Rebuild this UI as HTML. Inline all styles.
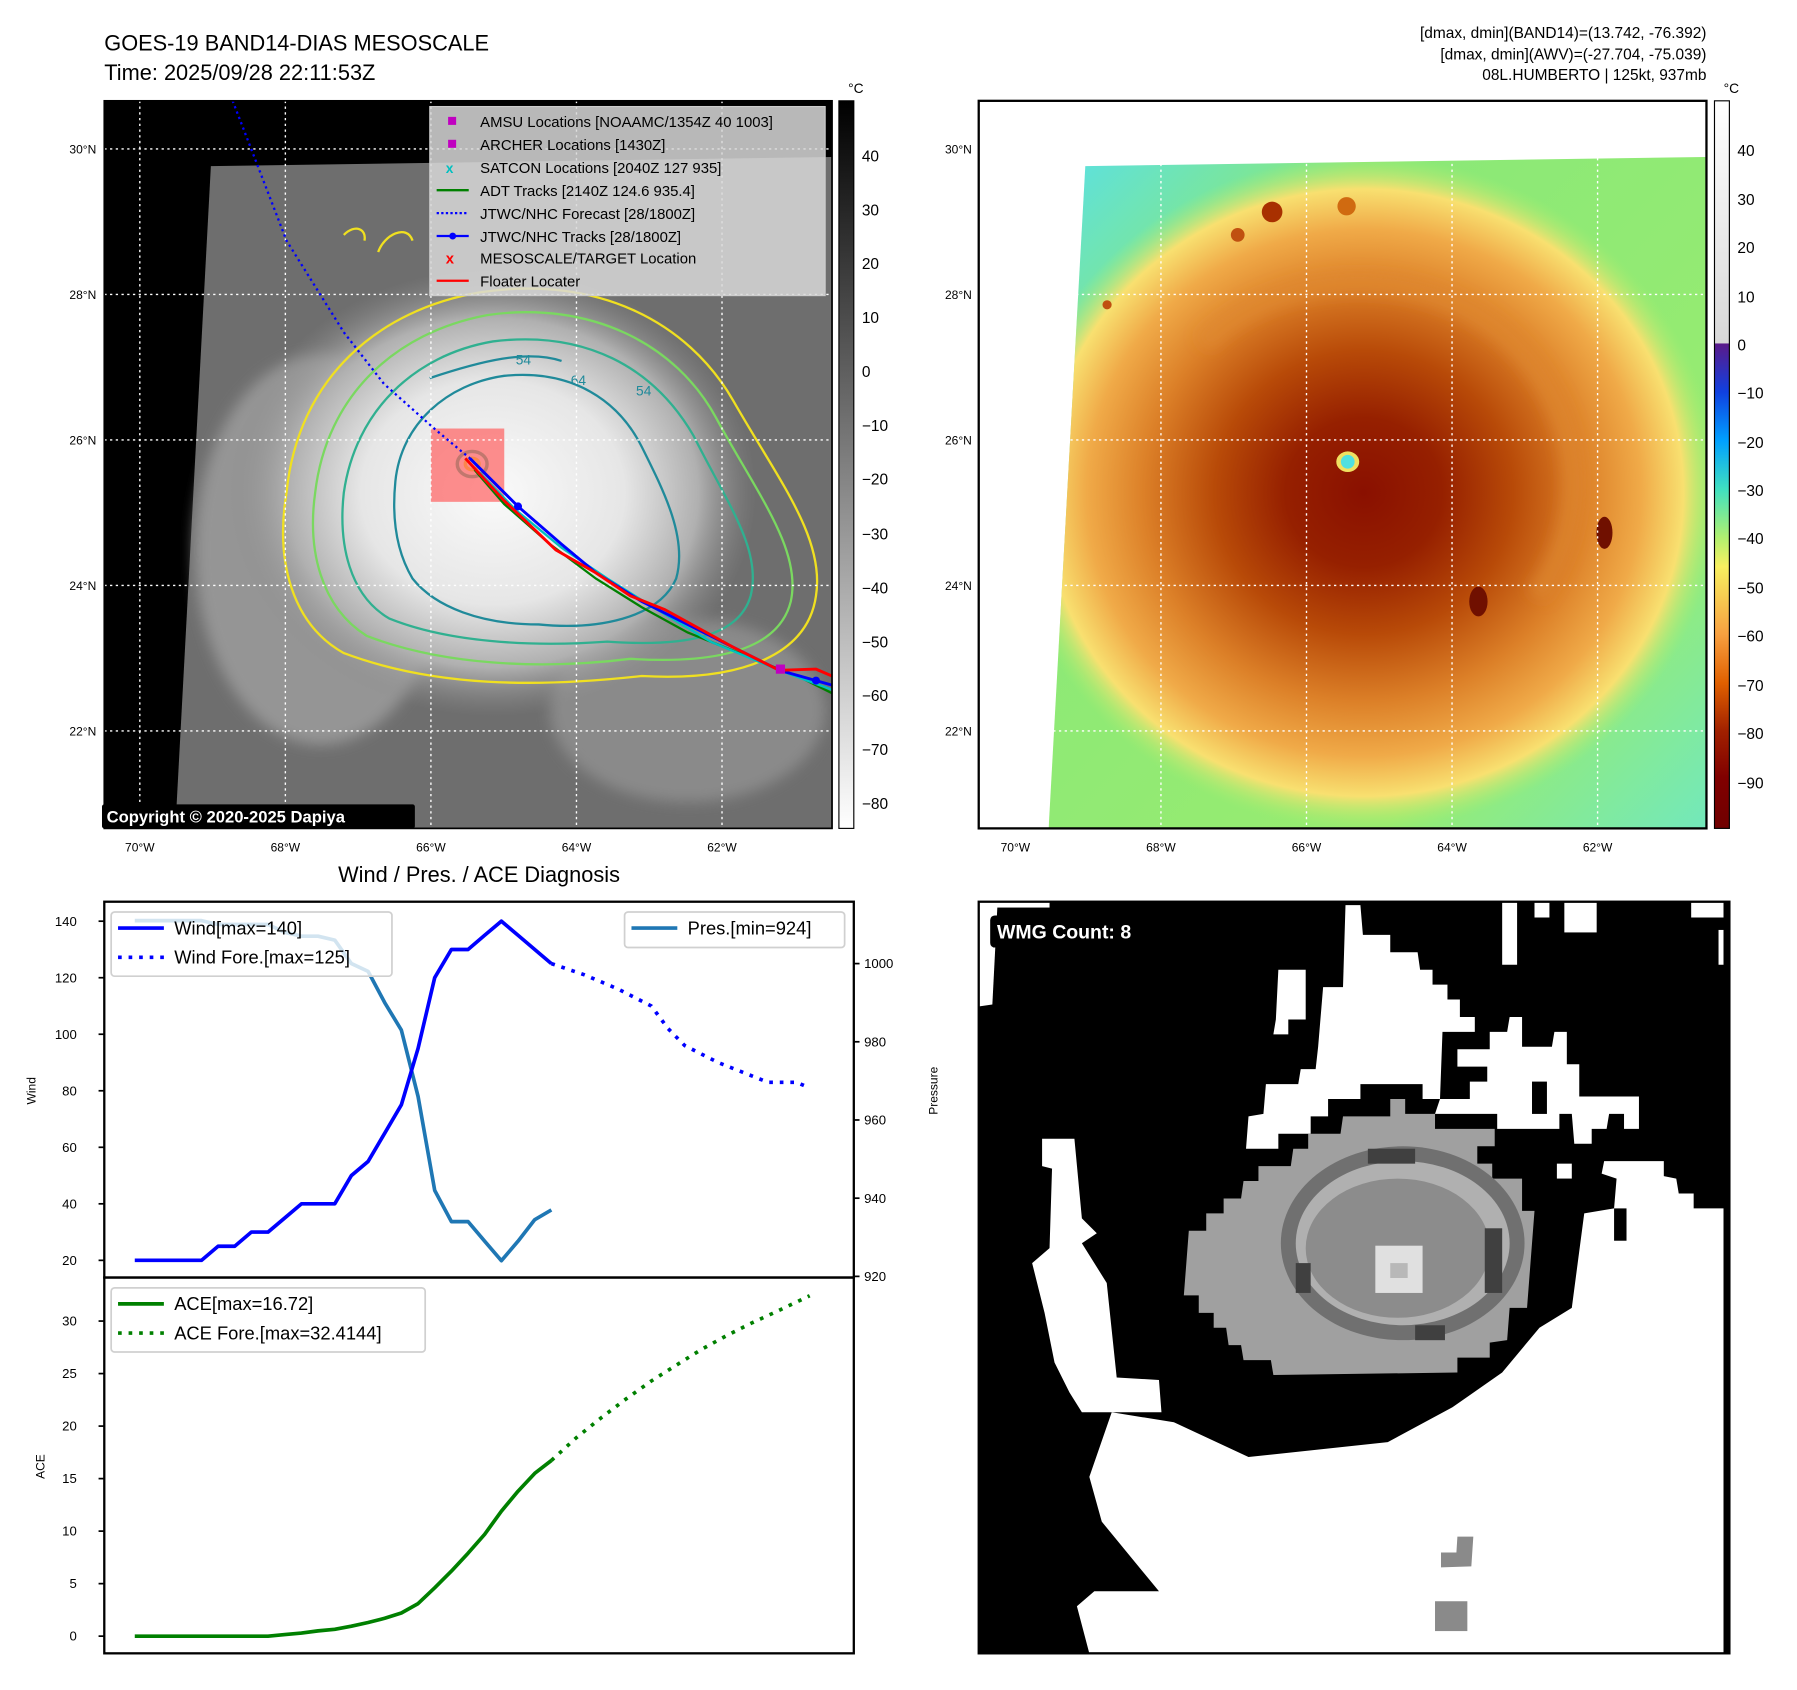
<!DOCTYPE html>
<html><head><meta charset="utf-8"><style>
html,body{margin:0;padding:0;background:#fff;}
svg{display:block;font-family:"Liberation Sans","DejaVu Sans",sans-serif;}
</style></head><body>
<svg id="fig" width="1797" height="1690" viewBox="0 0 1568 1475" preserveAspectRatio="none" xmlns="http://www.w3.org/2000/svg">
<defs>
<radialGradient id="cloud" cx="430" cy="430" r="230" gradientUnits="userSpaceOnUse" gradientTransform="translate(430 430) scale(1 0.85) translate(-430 -430)">
<stop offset="0" stop-color="#fafafa"/><stop offset="0.5" stop-color="#e6e6e6"/><stop offset="0.78" stop-color="#b0b0b0"/><stop offset="1" stop-color="#8a8a8a" stop-opacity="0"/></radialGradient>
<radialGradient id="storm" cx="1190" cy="430" r="310" gradientUnits="userSpaceOnUse" gradientTransform="translate(1190 430) scale(1 0.95) translate(-1190 -430)">
<stop offset="0" stop-color="#8a1000"/><stop offset="0.22" stop-color="#962000"/><stop offset="0.42" stop-color="#b84a08"/><stop offset="0.62" stop-color="#dc8028"/><stop offset="0.78" stop-color="#f0aa48"/><stop offset="0.9" stop-color="#f8e070"/><stop offset="1" stop-color="#a8ee70" stop-opacity="0"/></radialGradient>
<linearGradient id="cbGray" x1="0" y1="0" x2="0" y2="1"><stop offset="0" stop-color="#000"/><stop offset="1" stop-color="#fff"/></linearGradient>
<linearGradient id="cbColor" x1="0" y1="88" x2="0" y2="723" gradientUnits="userSpaceOnUse">
<stop offset="0" stop-color="#ffffff"/><stop offset="0.333" stop-color="#d8d8d8"/><stop offset="0.334" stop-color="#5a1a8a"/>
<stop offset="0.4" stop-color="#1040e0"/><stop offset="0.467" stop-color="#00a0ff"/><stop offset="0.534" stop-color="#40e0c0"/>
<stop offset="0.6" stop-color="#b0f070"/><stop offset="0.64" stop-color="#f8f060"/><stop offset="0.733" stop-color="#f8a040"/>
<stop offset="0.8" stop-color="#e06000"/><stop offset="0.867" stop-color="#a02000"/><stop offset="0.93" stop-color="#800000"/><stop offset="1" stop-color="#700000"/></linearGradient>
<linearGradient id="bgGreen" x1="0" y1="0" x2="1" y2="1"><stop offset="0" stop-color="#55e0f0"/><stop offset="0.25" stop-color="#8ae878"/><stop offset="0.75" stop-color="#98ec70"/><stop offset="1" stop-color="#70e8c0"/></linearGradient>
<filter id="blur4"><feGaussianBlur stdDeviation="6"/></filter>
</defs>

<text x="91" y="44" font-size="19">GOES-19 BAND14-DIAS MESOSCALE</text>
<text x="91" y="70" font-size="19">Time: 2025/09/28 22:11:53Z</text>
<g font-size="13.5" text-anchor="end">
<text x="1489" y="33">[dmax, dmin](BAND14)=(13.742, -76.392)</text>
<text x="1489" y="52">[dmax, dmin](AWV)=(-27.704, -75.039)</text>
<text x="1489" y="70">08L.HUMBERTO | 125kt, 937mb</text>
</g>

<g>
<clipPath id="clipL"><rect x="91" y="88" width="635" height="635"/></clipPath>
<rect x="91" y="88" width="635" height="635" fill="#000"/>
<g clip-path="url(#clipL)">
<polygon points="184,145 726,137 726,723 153,723" fill="#6e6e6e"/>
<ellipse cx="280" cy="480" rx="110" ry="170" fill="#959595" filter="url(#blur4)"/>
<ellipse cx="600" cy="620" rx="120" ry="80" fill="#8a8a8a" filter="url(#blur4)"/>
<ellipse cx="430" cy="430" rx="270" ry="240" fill="url(#cloud)"/>
<g fill="none" stroke-width="2">
<path d="M250,430 C260,330 330,270 420,255 C520,240 600,280 640,350 C680,420 720,470 712,520 C705,570 650,595 560,590 C470,600 380,600 300,570 C255,545 240,490 250,430Z" stroke="#f0e020"/>
<path d="M275,430 C285,345 345,290 425,275 C515,262 590,300 625,365 C660,430 700,480 690,525 C680,565 630,580 550,575 C470,585 385,580 320,555 C280,530 268,480 275,430Z" stroke="#7ad860"/>
<path d="M300,430 C310,360 360,310 430,298 C510,288 570,320 605,380 C635,440 665,480 655,520 C645,555 600,565 530,560 C460,565 390,560 340,540 C305,520 295,475 300,430Z" stroke="#30b090"/>
<path d="M345,420 C350,370 390,335 440,328 C500,322 540,350 560,390 C580,430 600,470 590,505 C575,540 520,550 470,545 C420,545 380,530 360,505 C345,480 342,450 345,420Z" stroke="#208a9a"/>
<path d="M375,330 C420,315 460,305 490,315" stroke="#208a9a"/>
<path d="M330,220 C335,205 355,195 360,210 M300,205 C310,195 320,200 318,210" stroke="#f0e020"/>
<ellipse cx="412" cy="405" rx="13" ry="11" stroke="#30b090" stroke-width="3"/>
<ellipse cx="412" cy="405" rx="6" ry="5" stroke="#f0e020" stroke-width="3"/>
</g>
<text x="450" y="318" font-size="12" fill="#208a9a">54</text>
<text x="498" y="336" font-size="12" fill="#208a9a">64</text>
<text x="555" y="345" font-size="12" fill="#208a9a">54</text>
<rect x="376" y="374" width="64" height="64" fill="#ff6060" fill-opacity="0.7"/>
<g stroke="#fff" stroke-width="1.2" stroke-dasharray="2,3">
<line x1="122" y1="88" x2="122" y2="723"/><line x1="249" y1="88" x2="249" y2="723"/><line x1="376" y1="88" x2="376" y2="723"/><line x1="503" y1="88" x2="503" y2="723"/><line x1="630" y1="88" x2="630" y2="723"/>
<line x1="91" y1="130" x2="726" y2="130"/><line x1="91" y1="257" x2="726" y2="257"/><line x1="91" y1="384" x2="726" y2="384"/><line x1="91" y1="511" x2="726" y2="511"/><line x1="91" y1="638" x2="726" y2="638"/>
</g>
<polyline points="203,88 250,210 300,290 335,335 380,375 410,400" fill="none" stroke="#0000ff" stroke-width="2" stroke-dasharray="2,3"/>
<polyline points="414,410 440,440 480,475 520,505 560,530 600,552 650,572 700,592 726,605" fill="none" stroke="#008000" stroke-width="2"/>
<polyline points="418,412 450,445 490,478 530,505 570,530 620,560 680,585 726,602" fill="none" stroke="#00c0c0" stroke-width="2"/>
<polyline points="410,400 452,442 490,475 520,500 560,525 620,555 680,585 726,598" fill="none" stroke="#0000ff" stroke-width="2.5"/>
<polyline points="406,400 440,437 485,480 520,500 550,520 580,532 640,565 680,585 712,584 726,590" fill="none" stroke="#ff0000" stroke-width="2.5"/>
<circle cx="452" cy="442" r="3.5" fill="#0000ff"/><circle cx="712" cy="594" r="3.5" fill="#0000ff"/>
<rect x="677" y="580" width="8" height="8" fill="#c000c0"/>
</g>
<rect x="91" y="88" width="635" height="635" fill="none" stroke="#000" stroke-width="1.5"/>
<g>
<rect x="89" y="702" width="273" height="21" fill="#000" rx="2"/>
<text x="93" y="718" font-size="14.5" font-weight="bold" fill="#fff">Copyright © 2020-2025 Dapiya</text>
</g>
<g font-size="13">
<rect x="375" y="93" width="345" height="165" fill="#d8d8d8" fill-opacity="0.85" stroke="#ccc"/>
<rect x="391" y="102" width="7" height="7" fill="#c000c0"/><text x="419" y="111">AMSU Locations [NOAAMC/1354Z 40 1003]</text>
<rect x="391" y="122" width="7" height="7" fill="#c000c0"/><text x="419" y="131">ARCHER Locations [1430Z]</text>
<text x="389" y="151" fill="#00c0c0" font-size="12" font-weight="bold">x</text><text x="419" y="151">SATCON Locations [2040Z 127 935]</text>
<line x1="381" y1="166" x2="409" y2="166" stroke="#008000" stroke-width="2"/><text x="419" y="171">ADT Tracks [2140Z 124.6 935.4]</text>
<line x1="381" y1="186" x2="409" y2="186" stroke="#0000ff" stroke-width="2" stroke-dasharray="2,2"/><text x="419" y="191">JTWC/NHC Forecast [28/1800Z]</text>
<line x1="381" y1="206" x2="409" y2="206" stroke="#0000ff" stroke-width="2"/><circle cx="395" cy="206" r="3" fill="#0000ff"/><text x="419" y="211">JTWC/NHC Tracks [28/1800Z]</text>
<text x="389" y="230" fill="#ff0000" font-size="13" font-weight="bold">x</text><text x="419" y="230">MESOSCALE/TARGET Location</text>
<line x1="381" y1="245" x2="409" y2="245" stroke="#ff0000" stroke-width="2"/><text x="419" y="250">Floater Locater</text>
</g>
<g font-size="10.5" text-anchor="end">
<text x="84" y="134">30°N</text><text x="84" y="261">28°N</text><text x="84" y="388">26°N</text><text x="84" y="515">24°N</text><text x="84" y="642">22°N</text>
</g>
<g font-size="10.5" text-anchor="middle">
<text x="122" y="743">70°W</text><text x="249" y="743">68°W</text><text x="376" y="743">66°W</text><text x="503" y="743">64°W</text><text x="630" y="743">62°W</text>
</g>
</g>
<g>
<text x="740" y="81" font-size="12">°C</text>
<rect x="732" y="88" width="13" height="635" fill="url(#cbGray)" stroke="#000" stroke-width="1"/>
<g font-size="13.5">
<text x="752" y="141">40</text><text x="752" y="188">30</text><text x="752" y="235">20</text><text x="752" y="282">10</text><text x="752" y="329">0</text>
<text x="752" y="376">−10</text><text x="752" y="423">−20</text><text x="752" y="471">−30</text><text x="752" y="518">−40</text><text x="752" y="565">−50</text>
<text x="752" y="612">−60</text><text x="752" y="659">−70</text><text x="752" y="706">−80</text>
</g>
</g>

<g>
<clipPath id="clipR"><polygon points="947,145 1489,137 1489,723 915,723"/></clipPath>
<rect x="854" y="88" width="635" height="635" fill="#fff"/>
<g clip-path="url(#clipR)">
<rect x="900" y="130" width="600" height="600" fill="url(#bgGreen)"/>
<ellipse cx="1190" cy="430" rx="310" ry="295" fill="url(#storm)"/>
<path d="M1050,300 C1120,230 1250,230 1320,300 C1380,360 1390,450 1340,520" fill="none" stroke="#e08a30" stroke-width="18" stroke-opacity="0.6" filter="url(#blur4)"/>
<circle cx="1110" cy="185" r="9" fill="#a83000"/><circle cx="1080" cy="205" r="6" fill="#c05010"/><circle cx="1175" cy="180" r="8" fill="#d06a10"/>
<circle cx="966" cy="266" r="4" fill="#c05010"/>
<ellipse cx="1290" cy="525" rx="8" ry="13" fill="#701000"/><ellipse cx="1400" cy="465" rx="7" ry="14" fill="#701000"/>
<ellipse cx="1176" cy="403" rx="10" ry="9" fill="#f0e060"/><ellipse cx="1176" cy="403" rx="6" ry="6" fill="#50e0e0"/>
</g>
<g stroke="#fff" stroke-width="1.2" stroke-dasharray="2,3">
<line x1="886" y1="88" x2="886" y2="723"/><line x1="1013" y1="88" x2="1013" y2="723"/><line x1="1140" y1="88" x2="1140" y2="723"/><line x1="1267" y1="88" x2="1267" y2="723"/><line x1="1394" y1="88" x2="1394" y2="723"/>
<line x1="854" y1="130" x2="1489" y2="130"/><line x1="854" y1="257" x2="1489" y2="257"/><line x1="854" y1="384" x2="1489" y2="384"/><line x1="854" y1="511" x2="1489" y2="511"/><line x1="854" y1="638" x2="1489" y2="638"/>
</g>
<rect x="854" y="88" width="635" height="635" fill="none" stroke="#000" stroke-width="2"/>
<g font-size="10.5" text-anchor="end">
<text x="848" y="134">30°N</text><text x="848" y="261">28°N</text><text x="848" y="388">26°N</text><text x="848" y="515">24°N</text><text x="848" y="642">22°N</text>
</g>
<g font-size="10.5" text-anchor="middle">
<text x="886" y="743">70°W</text><text x="1013" y="743">68°W</text><text x="1140" y="743">66°W</text><text x="1267" y="743">64°W</text><text x="1394" y="743">62°W</text>
</g>
</g>
<g>
<text x="1504" y="81" font-size="12">°C</text>
<rect x="1496" y="88" width="13" height="635" fill="url(#cbColor)" stroke="#000" stroke-width="1"/>
<g font-size="13.5">
<text x="1516" y="136">40</text><text x="1516" y="179">30</text><text x="1516" y="221">20</text><text x="1516" y="264">10</text><text x="1516" y="306">0</text>
<text x="1516" y="348">−10</text><text x="1516" y="391">−20</text><text x="1516" y="433">−30</text><text x="1516" y="475">−40</text><text x="1516" y="518">−50</text>
<text x="1516" y="560">−60</text><text x="1516" y="603">−70</text><text x="1516" y="645">−80</text><text x="1516" y="688">−90</text>
</g>
</g>

<g>
<rect x="854" y="787" width="655" height="656" fill="#000"/>
<clipPath id="clipW"><rect x="854" y="787" width="655" height="656"/></clipPath>
<g clip-path="url(#clipW)">
<g transform="translate(850.7,781.25) scale(0.434)">
<g fill="#fff">
<polygon points="1505,630 1445,630 1445,600 1415,600 1410,570 1385,565 1385,535 1265,535 1260,560 1290,570 1285,630 1225,640 1200,830 1135,870 1060,960 960,1030 830,1100 550,1130 400,1060 275,1040 230,1170 255,1260 370,1400 240,1400 205,1430 230,1525 1505,1525"/>
<polygon points="135,490 200,490 215,650 245,680 215,700 265,780 285,970 370,975 375,1040 215,1040 190,1000 160,940 140,840 115,740 150,710 155,550 135,545"/>
<polygon points="745,20 775,20 780,80 835,80 835,115 890,115 895,150 920,150 920,180 950,180 950,210 975,210 975,245 1005,245 1005,275 940,275 935,410 900,410 900,380 775,380 775,410 710,410 710,445 675,445 675,480 610,480 610,510 545,510 550,445 580,440 585,380 650,380 655,350 685,350 690,305 700,185 740,185"/>
<polygon points="610,150 665,150 665,250 630,250 630,280 600,280 605,250"/>
<polygon points="970,310 1035,310 1035,275 1070,275 1075,245 1100,245 1100,305 1160,305 1165,275 1190,275 1190,340 1215,340 1215,405 1335,405 1335,470 1305,470 1305,440 1275,440 1270,470 1240,470 1240,500 1205,500 1200,440 1175,440 1175,470 1050,470 1050,440 925,440 935,410 995,410 995,375 1030,375 1030,345 970,345"/>
<rect x="1060" y="15" width="30" height="125"/><rect x="1125" y="15" width="30" height="30"/><rect x="1185" y="15" width="65" height="60"/>
<rect x="1440" y="15" width="65" height="30"/><rect x="1495" y="70" width="10" height="70"/>
<rect x="0" y="10" width="150" height="15"/><polygon points="0,25 45,25 35,220 0,225"/>
<rect x="1170" y="540" width="30" height="30"/>
</g>
<rect x="1120" y="375" width="30" height="65" fill="#000"/>
<rect x="1285" y="630" width="25" height="65" fill="#000"/>
<polygon fill="#a0a0a0" points="835,410 865,410 865,440 925,440 925,470 1045,470 1045,505 1010,505 1010,540 1040,540 1040,570 1100,570 1100,635 1125,635 1110,830 1075,830 1070,895 1035,900 1035,930 970,930 970,960 600,965 595,935 540,935 535,905 510,905 505,870 480,870 480,840 450,840 450,805 420,805 430,675 465,675 465,640 500,640 500,610 535,610 540,575 570,575 570,545 635,545 640,510 670,510 670,480 735,480 740,445 835,445"/>
<ellipse cx="860" cy="700" rx="245" ry="195" fill="#707070"/>
<ellipse cx="860" cy="700" rx="215" ry="165" fill="#b0b0b0"/>
<ellipse cx="850" cy="710" rx="185" ry="140" fill="#8c8c8c"/>
<rect x="790" y="510" width="95" height="30" fill="#404040"/><rect x="885" y="865" width="60" height="30" fill="#404040"/>
<rect x="1025" y="670" width="35" height="130" fill="#404040"/><rect x="645" y="740" width="30" height="60" fill="#404040"/>
<rect x="805" y="705" width="95" height="95" fill="#e0e0e0"/><rect x="835" y="740" width="35" height="30" fill="#b8b8b8"/>
<polygon fill="#8a8a8a" points="970,1290 1002,1290 998,1350 937,1352 937,1322 968,1322"/>
<rect x="925" y="1420" width="65" height="60" fill="#8a8a8a"/>
</g>
</g>
<rect x="854" y="787" width="655" height="656" fill="none" stroke="#000" stroke-width="2"/>
<rect x="864" y="799" width="158" height="28" rx="4" fill="#000"/>
<text x="870" y="819" font-size="17" font-weight="bold" fill="#fff">WMG Count: 8</text>
</g>

<text x="418" y="770" font-size="19" text-anchor="middle">Wind / Pres. / ACE Diagnosis</text>
<g id="chart"></g>
</svg>
<script>
const windIdx = [0,1,2,3,4,5,6,7,8,9,10,11,12,13,14,15,16,17,18,19,20,21,22,23,24,25];
const windVals = [20,20,20,20,20,25,25,30,30,35,40,40,40,50,55,65,75,95,120,130,130,135,140,135,130,125];
const windForeIdx = [25,27,29,31,32,33,35,38,39.7,40.5];
const windForeVals = [125,121,116,110,102,96,90,83,83,81];
const presIdx = [0,1,2,3,4,5,6,7,8,9,10,11,12,13,14,15,16,17,18,19,20,21,22,23,24,25];
const presVals = [1011,1011,1011,1011,1011,1010,1010,1010,1010,1008,1007,1007,1006,1000,998,990,983,966,942,934,934,929,924,929,934.5,937];
const aceIdx = [0,1,2,3,4,5,6,7,8,9,10,11,12,13,14,15,16,17,18,19,20,21,22,23,24,25];
const aceVals = [0,0,0,0,0,0,0,0,0,0.15,0.3,0.5,0.65,0.95,1.3,1.7,2.2,3.1,4.6,6.2,7.9,9.7,11.9,13.8,15.5,16.72];
const aceForeIdx = [25,26.5,28,29.5,31,32.5,34,35.5,37,38.5,40.5];
const aceForeVals = [16.72,18.9,20.8,22.6,24.3,25.8,27.3,28.6,29.8,30.9,32.41];
const windTicks = [20,40,60,80,100,120,140];
const presTicks = [920,940,960,980,1000];
const aceTicks = [0,5,10,15,20,25,30];

const NS = 'http://www.w3.org/2000/svg';
const g = document.getElementById('chart');
const L = 91, R = 745, T1 = 787, B1 = 1115, B2 = 1443;
const xS = i => 117.6 + 14.54 * i;
const yW = v => 1100 - (v - 20) * (296 / 120);
const yP = v => 1114 - (v - 920) * (273 / 80);
const yA = v => 1428 - v * (275 / 30);
function mk(tag, attrs, parent) {
  const e = document.createElementNS(NS, tag);
  for (const k in attrs) e.setAttribute(k, attrs[k]);
  (parent || g).appendChild(e);
  return e;
}
function line(idx, vals, ys, color, dash, name) {
  const pts = idx.map((d, i) => xS(d).toFixed(1) + ',' + ys(vals[i]).toFixed(1)).join(' ');
  const e = mk('polyline', {points: pts, fill: 'none', stroke: color, 'stroke-width': 3.2, 'stroke-linejoin': 'round'});
  if (dash) e.setAttribute('stroke-dasharray', '3.2,6');
  
  
}
function txt(x, y, s, size, anchor, name) {
  const e = mk('text', {x: x, y: y, 'font-size': size, 'text-anchor': anchor || 'start'});
  e.textContent = s;
  
  
  return e;
}
line(presIdx, presVals, yP, '#1f77b4', false, 'pressure-line');
line(windIdx, windVals, yW, '#0000ff', false, 'wind-line');
line(windForeIdx, windForeVals, yW, '#0000ff', true, 'wind-forecast-line');
line(aceIdx, aceVals, yA, '#008000', false, 'ace-line');
line(aceForeIdx, aceForeVals, yA, '#008000', true, 'ace-forecast-line');
const f1 = mk('rect', {x: L, y: T1, width: R - L, height: B1 - T1, fill: 'none', stroke: '#000', 'stroke-width': 2});


const f2 = mk('rect', {x: L, y: B1, width: R - L, height: B2 - B1, fill: 'none', stroke: '#000', 'stroke-width': 2});


windTicks.forEach(v => {
  mk('line', {x1: L - 5, x2: L, y1: yW(v), y2: yW(v), stroke: '#000', 'stroke-width': 1.5});
  txt(L - 24, yW(v) + 4, String(v), 11.5, 'end', 'wind-tick-label');
});
presTicks.forEach(v => {
  mk('line', {x1: R, x2: R + 5, y1: yP(v), y2: yP(v), stroke: '#000', 'stroke-width': 1.5});
  txt(R + 9, yP(v) + 4, String(v), 11.5, 'start', 'pressure-tick-label');
});
aceTicks.forEach(v => {
  mk('line', {x1: L - 5, x2: L, y1: yA(v), y2: yA(v), stroke: '#000', 'stroke-width': 1.5});
  txt(L - 24, yA(v) + 4, String(v), 11.5, 'end', 'ace-tick-label');
});
const wt = txt(0, 0, 'Wind', 10.5, 'middle', 'wind-axis-title'); wt.setAttribute('transform', 'translate(31,952) rotate(-90)');
const pt = txt(0, 0, 'Pressure', 10.5, 'middle', 'pressure-axis-title'); pt.setAttribute('transform', 'translate(818,952) rotate(-90)');
const at = txt(0, 0, 'ACE', 10.5, 'middle', 'ace-axis-title'); at.setAttribute('transform', 'translate(39,1280) rotate(-90)');
function legend(x, y, w, h, items, name) {
  const lg = mk('g', {});
  
  
  mk('rect', {x: x, y: y, width: w, height: h, rx: 3, fill: '#fff', 'fill-opacity': 0.8, stroke: '#d0d0d0', 'stroke-width': 1.5}, lg);
  items.forEach((it, i) => {
    const yy = y + 14 + i * 25.5;
    const l = mk('line', {x1: x + 6, x2: x + 46, y1: yy, y2: yy, stroke: it[1], 'stroke-width': 3.2}, lg);
    if (it[2]) l.setAttribute('stroke-dasharray', '3.2,6');
    const t = mk('text', {x: x + 55, y: yy + 5.5, 'font-size': 16}, lg);
    t.textContent = it[0];
  });
}
legend(97, 796, 245, 56, [['Wind[max=140]', '#0000ff', false], ['Wind Fore.[max=125]', '#0000ff', true]], 'wind-legend');
legend(545, 796, 192, 31, [['Pres.[min=924]', '#1f77b4', false]], 'pressure-legend');
legend(97, 1124, 274, 56, [['ACE[max=16.72]', '#008000', false], ['ACE Fore.[max=32.4144]', '#008000', true]], 'ace-legend');
</script>
</body></html>
